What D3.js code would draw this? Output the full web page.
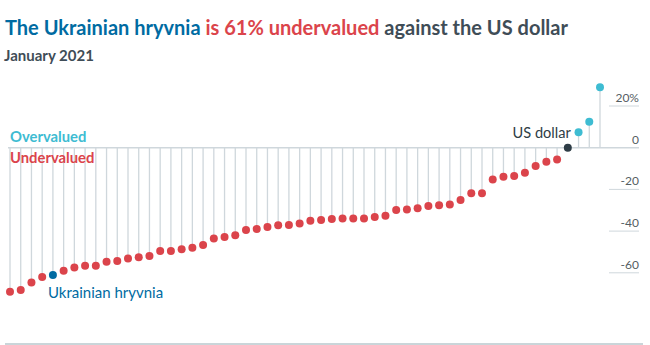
<!DOCTYPE html>
<html>
<head>
<meta charset="utf-8">
<script src="https://cdn.jsdelivr.net/npm/d3@7"></script>
<style>
  html, body { margin: 0; padding: 0; background: #fff; }
  svg { display: block; font-family: Lato, "Open Sans", sans-serif; }
</style>
</head>
<body>
<svg id="chart" width="650" height="345"></svg>
<script>
// Big Mac index, January 2021: raw valuation against the US dollar, %, sorted
const values = [
  -69.1, -68.2, -64.7, -62.0, -61.0, -59.0, -57.5, -56.6, -56.6, -54.7,
  -54.3, -53.2, -52.6, -51.9, -49.5, -49.5, -48.7, -48.0, -46.7, -43.5,
  -42.8, -42.0, -39.5, -39.0, -38.0, -37.2, -37.1, -36.4, -35.0, -34.7,
  -34.2, -34.0, -34.0, -34.0, -33.2, -32.6, -29.9, -29.7, -29.1, -28.0,
  -27.6, -27.3, -25.1, -21.9, -21.9, -15.3, -13.9, -13.6, -12.0, -8.8,
  -6.7, -5.6, 0.0, 7.4, 12.5, 29.0
];
const hryvniaIndex = 4;
const dollarIndex = 52;
const tickValues = [20, 0, -20, -40, -60];
const tickLabels = ["20%", "0", "-20", "-40", "-60"];

const colors = {
  under: "#db444b",
  over: "#3ebcd2",
  hryvnia: "#006ba2",
  dollar: "#2e3d46",
  stem: "#cfd7dc",
  text: "#3f4d57",
  axis: "#555e63",
  rule: "#b9c7cd"
};

const svg = d3.select("#chart");

const x = d3.scalePoint()
  .domain(d3.range(values.length))
  .range([10, 600]);

const y = d3.scaleLinear()
  .domain([-60, 20])
  .range([272.8, 106]);

// Title
const title = svg.append("text")
  .attr("x", 5).attr("y", 35)
  .attr("font-size", 20).attr("font-weight", 700);
title.append("tspan").attr("fill", colors.hryvnia).text("The Ukrainian hryvnia ");
title.append("tspan").attr("fill", colors.under).text("is 61% undervalued ");
title.append("tspan").attr("fill", colors.text).text("against the US dollar");

svg.append("text")
  .attr("x", 4).attr("y", 61)
  .attr("font-size", 15).attr("font-weight", 700)
  .attr("fill", colors.text)
  .text("January 2021");

// Right-hand axis ticks
const axisG = svg.append("g");
axisG.selectAll("line.tick")
  .data(tickValues.filter(v => v !== 0))
  .join("line")
  .attr("class", "tick")
  .attr("x1", 609).attr("x2", 639)
  .attr("y1", d => y(d)).attr("y2", d => y(d))
  .attr("stroke", colors.stem).attr("stroke-width", 1);

axisG.selectAll("text")
  .data(tickValues)
  .join("text")
  .attr("x", 639)
  .attr("y", d => y(d) - 4)
  .attr("text-anchor", "end")
  .attr("font-size", 12)
  .attr("fill", colors.axis)
  .text((d, i) => tickLabels[i]);

// Zero line
svg.append("line")
  .attr("x1", 8).attr("x2", 639)
  .attr("y1", y(0)).attr("y2", y(0))
  .attr("stroke", colors.stem).attr("stroke-width", 1.5);

// Stems
svg.append("g").selectAll("line")
  .data(values.map((v, i) => ({ v, i })).filter(d => d.v !== 0))
  .join("line")
  .attr("x1", d => x(d.i)).attr("x2", d => x(d.i))
  .attr("y1", y(0)).attr("y2", d => y(d.v))
  .attr("stroke", colors.stem).attr("stroke-width", 1.3);

// Dots
function dotColor(d, i) {
  if (i === hryvniaIndex) return colors.hryvnia;
  if (i === dollarIndex) return colors.dollar;
  return d > 0 ? colors.over : colors.under;
}
svg.append("g").selectAll("circle")
  .data(values)
  .join("circle")
  .attr("cx", (d, i) => x(i))
  .attr("cy", d => y(d))
  .attr("r", 4)
  .attr("fill", dotColor);

// Labels
svg.append("text")
  .attr("x", 10).attr("y", 142)
  .attr("font-size", 14.8).attr("font-weight", 700)
  .attr("fill", colors.over)
  .text("Overvalued");
svg.append("text")
  .attr("x", 10).attr("y", 163)
  .attr("font-size", 14.8).attr("font-weight", 700)
  .attr("fill", colors.under)
  .text("Undervalued");

svg.append("text")
  .attr("x", x(hryvniaIndex) - 5).attr("y", 298)
  .attr("font-size", 15)
  .attr("fill", colors.hryvnia)
  .text("Ukrainian hryvnia");

svg.append("text")
  .attr("x", x(dollarIndex) + 3).attr("y", 138)
  .attr("text-anchor", "end")
  .attr("font-size", 14.6)
  .attr("fill", colors.dollar)
  .text("US dollar");

// Bottom rule
svg.append("line")
  .attr("x1", 5).attr("x2", 643)
  .attr("y1", 344).attr("y2", 344)
  .attr("stroke", colors.rule).attr("stroke-width", 1.5);
</script>
</body>
</html>
